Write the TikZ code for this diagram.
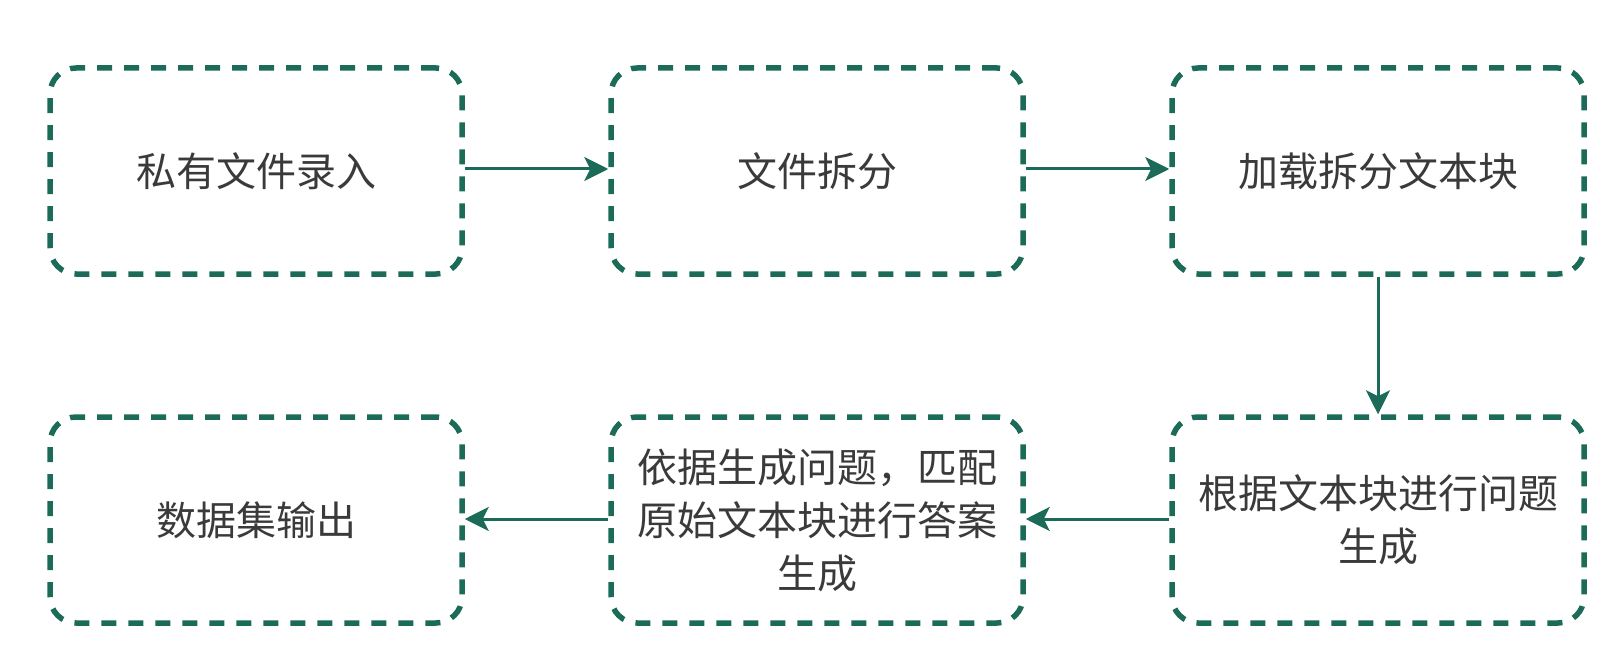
\documentclass[tikz,border=0pt]{standalone}
\usepackage{fontspec}
\setmainfont{Noto Sans CJK SC}
\usetikzlibrary{arrows.meta}
\definecolor{gr}{HTML}{1B6B58}
\definecolor{tx}{HTML}{3A3A3A}
\begin{document}
\begin{tikzpicture}[x=1pt,y=-1pt,
 box/.style={draw=gr,line width=5.5pt,dash pattern=on 15pt off 12pt,rounded corners=26pt,minimum width=412pt,minimum height=206pt,align=center,text=tx,font=\fontsize{40}{53}\selectfont,inner sep=2pt},
 arr/.style={draw=gr,line width=3pt,-{Stealth[length=24pt,width=24pt,inset=6pt]}}]
\useasboundingbox (0,0) rectangle (1620,655);
\node[box] (a) at (256,171) {私有文件录入};
\node[box] (b) at (817,171) {文件拆分};
\node[box] (c) at (1378,171) {加载拆分文本块};
\node[box] (d) at (1378,520) {根据文本块进行问题\\生成};
\node[box] (e) at (817,520) {依据生成问题，匹配\\原始文本块进行答案\\生成};
\node[box] (f) at (256,520) {数据集输出};
\draw[arr] (a.east|-0,169) -- (b.west|-0,169);
\draw[arr] (b.east|-0,169) -- (c.west|-0,169);
\draw[arr] (c.south) -- (d.north);
\draw[arr] (d.west|-0,519) -- (e.east|-0,519);
\draw[arr] (e.west|-0,519) -- (f.east|-0,519);
\end{tikzpicture}
\end{document}
